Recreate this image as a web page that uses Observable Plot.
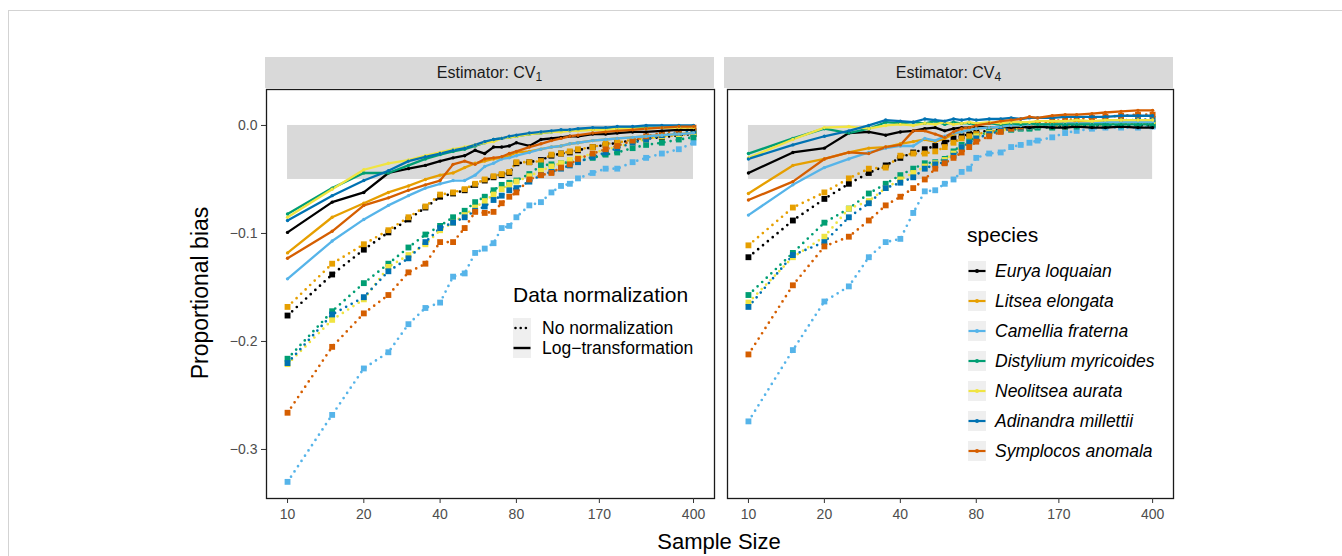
<!DOCTYPE html>
<html>
<head>
<meta charset="utf-8">
<script src="https://cdn.jsdelivr.net/npm/d3@7"></script>
<script src="https://cdn.jsdelivr.net/npm/@observablehq/plot@0.6"></script>
<style>
  body { margin: 0; background: #fff; font-family: "Liberation Sans", Arial, Helvetica, sans-serif; }
  #fig { position: relative; width: 1342px; height: 556px; overflow: hidden; background: #fff; }
  .strip { position: absolute; background: #d9d9d9; color: #1a1a1a; font-size: 16px; text-align: center; line-height: 31px; height: 31px; }
  .strip sub { font-size: 12px; vertical-align: -3px; line-height: 0; }
  .axtitle { position: absolute; color: #000; font-size: 23px; white-space: nowrap; line-height: 1; }
  .legtitle { position: absolute; color: #000; font-size: 21px; white-space: nowrap; line-height: 1; }
  .legrow { position: absolute; display: flex; align-items: center; white-space: nowrap; font-size: 17.5px; color: #000; }
  .legrow svg { display: block; margin-right: 11px; }
  .border { position: absolute; left: 8px; top: 10px; right: -2px; bottom: -2px; border-top: 1px solid #d3d3d3; border-left: 1px solid #d3d3d3; pointer-events: none; }
</style>
</head>
<body>
<div id="fig"></div>
<script>
// ---------------- data ----------------
const sampleSizes = [10,15,20,25,30,35,40,45,50,55,60,65,70,75,80,90,100,110,120,130,140,160,180,200,230,260,300,350,400];
const speciesNames = ["Eurya loquaian","Litsea elongata","Camellia fraterna","Distylium myricoides","Neolitsea aurata","Adinandra millettii","Symplocos anomala"];
const speciesColors = ["#000000","#E69F00","#56B4E9","#009E73","#F0E442","#0072B2","#D55E00"];
const estimatorLabels = ["1","4"];
const normalizationLabels = ["No normalization","Log\u2212transformation"];
const xTickValues = [10,20,40,80,170,400];
const yTickValues = [-0.3,-0.2,-0.1,0.0];
const bandRange = [-0.05, 0];
const bandSampleRange = [10, 400];

// Estimator CV1, log-transformation (solid)
const cv1LogEurya      = [-0.099,-0.071,-0.062,-0.044,-0.040,-0.037,-0.033,-0.030,-0.028,-0.023,-0.026,-0.020,-0.020,-0.019,-0.016,-0.019,-0.013,-0.012,-0.011,-0.010,-0.010,-0.008,-0.008,-0.007,-0.006,-0.006,-0.005,-0.004,-0.004];
const cv1LogLitsea     = [-0.118,-0.085,-0.072,-0.062,-0.056,-0.050,-0.046,-0.044,-0.039,-0.035,-0.033,-0.031,-0.030,-0.028,-0.025,-0.024,-0.022,-0.020,-0.019,-0.017,-0.016,-0.014,-0.013,-0.012,-0.011,-0.010,-0.009,-0.008,-0.007];
const cv1LogCamellia   = [-0.142,-0.107,-0.087,-0.074,-0.065,-0.058,-0.054,-0.051,-0.051,-0.046,-0.038,-0.035,-0.031,-0.030,-0.028,-0.025,-0.022,-0.020,-0.019,-0.017,-0.016,-0.014,-0.013,-0.012,-0.011,-0.010,-0.009,-0.008,-0.007];
const cv1LogDistylium  = [-0.082,-0.058,-0.044,-0.044,-0.037,-0.031,-0.027,-0.024,-0.022,-0.019,-0.016,-0.013,-0.012,-0.011,-0.010,-0.008,-0.007,-0.006,-0.005,-0.005,-0.004,-0.004,-0.003,-0.003,-0.002,-0.002,-0.002,-0.001,-0.001];
const cv1LogNeolitsea  = [-0.085,-0.059,-0.041,-0.035,-0.032,-0.028,-0.025,-0.022,-0.020,-0.018,-0.016,-0.015,-0.012,-0.011,-0.010,-0.008,-0.007,-0.006,-0.006,-0.005,-0.005,-0.004,-0.004,-0.003,-0.003,-0.003,-0.002,-0.002,-0.002];
const cv1LogAdinandra  = [-0.088,-0.065,-0.051,-0.042,-0.033,-0.029,-0.026,-0.023,-0.021,-0.018,-0.015,-0.013,-0.012,-0.010,-0.009,-0.007,-0.006,-0.005,-0.004,-0.004,-0.003,-0.002,-0.002,-0.001,-0.001,0.000,0.000,0.000,0.000];
const cv1LogSymplocos  = [-0.123,-0.098,-0.074,-0.067,-0.060,-0.055,-0.051,-0.036,-0.033,-0.036,-0.031,-0.030,-0.029,-0.026,-0.024,-0.020,-0.017,-0.014,-0.012,-0.010,-0.009,-0.007,-0.006,-0.005,-0.004,-0.003,-0.002,-0.001,-0.001];

// Estimator CV1, no normalization (dotted)
const cv1RawEurya      = [-0.176,-0.138,-0.115,-0.099,-0.087,-0.076,-0.066,-0.063,-0.060,-0.055,-0.051,-0.048,-0.046,-0.044,-0.035,-0.034,-0.032,-0.028,-0.026,-0.025,-0.023,-0.020,-0.018,-0.016,-0.014,-0.012,-0.011,-0.009,-0.008];
const cv1RawLitsea     = [-0.168,-0.128,-0.110,-0.097,-0.085,-0.075,-0.064,-0.062,-0.059,-0.054,-0.050,-0.047,-0.045,-0.043,-0.034,-0.034,-0.033,-0.027,-0.026,-0.024,-0.022,-0.020,-0.017,-0.016,-0.013,-0.012,-0.010,-0.009,-0.007];
const cv1RawCamellia   = [-0.330,-0.268,-0.225,-0.210,-0.184,-0.169,-0.164,-0.140,-0.137,-0.118,-0.114,-0.109,-0.095,-0.093,-0.085,-0.074,-0.071,-0.062,-0.056,-0.054,-0.049,-0.044,-0.040,-0.040,-0.034,-0.030,-0.026,-0.022,-0.016];
const cv1RawDistylium  = [-0.216,-0.172,-0.146,-0.128,-0.113,-0.101,-0.093,-0.085,-0.079,-0.071,-0.066,-0.060,-0.055,-0.053,-0.051,-0.045,-0.037,-0.036,-0.035,-0.034,-0.033,-0.030,-0.027,-0.025,-0.021,-0.018,-0.016,-0.013,-0.011];
const cv1RawNeolitsea  = [-0.221,-0.180,-0.161,-0.131,-0.120,-0.110,-0.097,-0.090,-0.083,-0.076,-0.070,-0.064,-0.059,-0.055,-0.052,-0.047,-0.042,-0.038,-0.035,-0.032,-0.030,-0.026,-0.022,-0.020,-0.016,-0.013,-0.010,-0.008,-0.006];
const cv1RawAdinandra  = [-0.220,-0.175,-0.159,-0.135,-0.123,-0.108,-0.095,-0.090,-0.085,-0.079,-0.075,-0.069,-0.065,-0.060,-0.058,-0.052,-0.046,-0.043,-0.040,-0.037,-0.034,-0.029,-0.025,-0.021,-0.016,-0.013,-0.009,-0.007,-0.005];
const cv1RawSymplocos  = [-0.266,-0.205,-0.174,-0.157,-0.136,-0.128,-0.108,-0.108,-0.095,-0.080,-0.081,-0.080,-0.072,-0.066,-0.062,-0.050,-0.046,-0.044,-0.039,-0.036,-0.031,-0.026,-0.022,-0.019,-0.014,-0.010,-0.007,-0.004,-0.002];

// Estimator CV4, log-transformation (solid)
const cv4LogEurya      = [-0.044,-0.025,-0.021,-0.007,-0.006,-0.009,-0.006,-0.005,-0.003,-0.002,-0.005,-0.003,-0.002,-0.002,-0.001,-0.002,-0.001,-0.002,-0.001,-0.002,-0.001,-0.002,-0.002,-0.001,-0.002,-0.002,-0.001,-0.002,-0.002];
const cv4LogLitsea     = [-0.063,-0.037,-0.031,-0.025,-0.021,-0.020,-0.017,-0.015,-0.013,-0.015,-0.012,-0.008,-0.006,-0.004,-0.003,-0.002,-0.001,0.000,0.000,0.001,0.001,0.002,0.002,0.003,0.003,0.004,0.004,0.005,0.005];
const cv4LogCamellia   = [-0.083,-0.055,-0.039,-0.031,-0.025,-0.021,-0.019,-0.019,-0.012,-0.014,-0.010,-0.007,-0.006,-0.004,-0.003,-0.002,-0.001,0.000,0.000,0.001,0.001,0.001,0.002,0.002,0.002,0.003,0.003,0.003,0.003];
const cv4LogDistylium  = [-0.026,-0.012,-0.003,-0.007,-0.003,0.003,0.002,0.003,0.002,0.004,0.001,0.003,0.002,0.002,0.001,0.002,0.001,0.002,0.001,0.002,0.001,0.001,0.001,0.001,0.001,0.001,0.001,0.001,0.001];
const cv4LogNeolitsea  = [-0.030,-0.013,-0.002,-0.001,-0.003,0.000,0.001,0.000,0.002,0.001,0.003,0.001,0.002,0.003,0.002,0.003,0.002,0.003,0.003,0.003,0.004,0.004,0.004,0.005,0.004,0.005,0.005,0.005,0.005];
const cv4LogAdinandra  = [-0.031,-0.018,-0.010,-0.005,0.000,0.005,0.004,0.003,0.006,0.005,0.004,0.006,0.005,0.006,0.005,0.006,0.006,0.007,0.006,0.007,0.007,0.007,0.008,0.008,0.008,0.008,0.009,0.009,0.009];
const cv4LogSymplocos  = [-0.069,-0.052,-0.031,-0.025,-0.026,-0.020,-0.018,-0.005,-0.005,-0.008,-0.011,-0.006,-0.003,-0.002,0.000,0.002,0.004,0.005,0.006,0.008,0.007,0.009,0.010,0.010,0.011,0.012,0.013,0.014,0.014];

// Estimator CV4, no normalization (dotted)
const cv4RawEurya      = [-0.122,-0.088,-0.068,-0.054,-0.044,-0.037,-0.030,-0.025,-0.022,-0.019,-0.016,-0.012,-0.010,-0.008,-0.006,-0.005,-0.004,-0.003,-0.002,-0.002,-0.001,-0.001,-0.001,0.000,0.000,0.000,0.000,0.000,0.000];
const cv4RawLitsea     = [-0.111,-0.076,-0.062,-0.049,-0.040,-0.039,-0.028,-0.026,-0.026,-0.024,-0.020,-0.016,-0.012,-0.010,-0.008,-0.006,-0.004,-0.003,-0.002,-0.001,-0.001,0.000,0.000,0.001,0.001,0.001,0.002,0.002,0.002];
const cv4RawCamellia   = [-0.274,-0.208,-0.163,-0.149,-0.122,-0.108,-0.105,-0.081,-0.061,-0.060,-0.054,-0.050,-0.043,-0.040,-0.030,-0.026,-0.025,-0.020,-0.018,-0.016,-0.014,-0.011,-0.007,-0.005,-0.003,-0.002,-0.002,-0.002,-0.001];
const cv4RawDistylium  = [-0.157,-0.118,-0.090,-0.077,-0.063,-0.054,-0.046,-0.040,-0.035,-0.034,-0.031,-0.024,-0.018,-0.015,-0.010,-0.006,-0.005,-0.004,-0.003,-0.003,-0.002,-0.002,-0.001,-0.001,0.000,0.000,0.000,0.001,0.001];
const cv4RawNeolitsea  = [-0.164,-0.122,-0.103,-0.077,-0.070,-0.058,-0.050,-0.044,-0.038,-0.035,-0.032,-0.026,-0.020,-0.016,-0.010,-0.007,-0.005,-0.003,-0.002,-0.001,0.000,0.001,0.002,0.002,0.003,0.003,0.004,0.004,0.004];
const cv4RawAdinandra  = [-0.168,-0.120,-0.108,-0.085,-0.072,-0.058,-0.053,-0.048,-0.040,-0.036,-0.034,-0.028,-0.020,-0.016,-0.012,-0.008,-0.005,-0.003,-0.002,-0.001,0.000,0.001,0.002,0.003,0.003,0.004,0.005,0.005,0.006];
const cv4RawSymplocos  = [-0.212,-0.148,-0.112,-0.103,-0.088,-0.074,-0.066,-0.058,-0.050,-0.040,-0.035,-0.030,-0.025,-0.020,-0.015,-0.010,-0.006,-0.003,-0.001,0.001,0.002,0.004,0.005,0.006,0.007,0.008,0.009,0.010,0.010];

const cv1Log = [cv1LogEurya, cv1LogLitsea, cv1LogCamellia, cv1LogDistylium, cv1LogNeolitsea, cv1LogAdinandra, cv1LogSymplocos];
const cv1Raw = [cv1RawEurya, cv1RawLitsea, cv1RawCamellia, cv1RawDistylium, cv1RawNeolitsea, cv1RawAdinandra, cv1RawSymplocos];
const cv4Log = [cv4LogEurya, cv4LogLitsea, cv4LogCamellia, cv4LogDistylium, cv4LogNeolitsea, cv4LogAdinandra, cv4LogSymplocos];
const cv4Raw = [cv4RawEurya, cv4RawLitsea, cv4RawCamellia, cv4RawDistylium, cv4RawNeolitsea, cv4RawAdinandra, cv4RawSymplocos];

// ---------------- build ----------------
function toRows(seriesList) {
  const rows = [];
  seriesList.forEach((vals, i) => vals.forEach((v, j) => rows.push({species: speciesNames[i], n: sampleSizes[j], bias: v})));
  return rows;
}

const FONT = '"Liberation Sans", Arial, Helvetica, sans-serif';
const fig = document.getElementById("fig");

function panel(logSeries, rawSeries, opts) {
  const rowsLog = toRows(logSeries);
  const rowsRaw = toRows(rawSeries);
  const axisMarks = [
    // tick marks through the library's log scale
    Plot.axisX(xTickValues, {tickFormat: () => "", label: null, tickSize: 5, stroke: "#333"}),
    // tick labels (drawn as text so the log scale's label thinning does not drop any)
    Plot.text(xTickValues, {x: d => d, text: d => String(d), frameAnchor: "bottom", dy: 20, fill: "#4d4d4d", fontSize: 14})
  ];
  if (opts.showY) axisMarks.push(Plot.axisY(yTickValues, {tickFormat: d3.format(".1f"), label: null, tickSize: 5, tickPadding: 4, stroke: "#333", fill: "#4d4d4d"}));
  const chart = Plot.plot({
    width: opts.width,
    height: 556,
    marginTop: 89,
    marginBottom: 58,
    marginLeft: opts.marginLeft,
    marginRight: opts.marginRight,
    style: {fontFamily: FONT, fontSize: "14px", color: "#4d4d4d", background: "transparent", overflow: "visible"},
    x: {type: "log", domain: [8.26, 484], label: null, axis: null},
    y: {domain: [-0.3454, 0.0333], label: null, axis: null},
    color: {domain: speciesNames, range: speciesColors},
    marks: [
      Plot.rect([0], {x1: () => bandSampleRange[0], x2: () => bandSampleRange[1], y1: () => bandRange[0], y2: () => bandRange[1], fill: "#d9d9d9"}),
      Plot.line(rowsRaw, {x: "n", y: "bias", z: "species", stroke: "species", strokeWidth: 2.7, strokeDasharray: "0 6.3", strokeLinecap: "round"}),
      Plot.dot(rowsRaw, {x: "n", y: "bias", fill: "species", symbol: "square", r: 3.3}),
      Plot.line(rowsLog, {x: "n", y: "bias", z: "species", stroke: "species", strokeWidth: 2.3}),
      Plot.dot(rowsLog, {x: "n", y: "bias", fill: "species", r: 1.7}),
      Plot.frame({stroke: "#1a1a1a", strokeWidth: 1.3}),
      ...axisMarks
    ]
  });
  chart.style.position = "absolute";
  chart.style.left = opts.left + "px";
  chart.style.top = "0px";
  chart.style.maxWidth = "none";
  fig.appendChild(chart);
}

panel(cv1Log, cv1Raw, {left: 0, width: 719, marginLeft: 266, marginRight: 5, showY: true});
panel(cv4Log, cv4Raw, {left: 722, width: 456, marginLeft: 5, marginRight: 5, showY: false});

// strips
const stripBoxes = [{left: 265, width: 449}, {left: 724, width: 449}];
estimatorLabels.forEach((lab, i) => {
  const d = document.createElement("div");
  d.className = "strip";
  d.style.left = stripBoxes[i].left + "px";
  d.style.width = stripBoxes[i].width + "px";
  d.style.top = "57px";
  d.innerHTML = "Estimator: CV<sub>" + lab + "</sub>";
  fig.appendChild(d);
});

// axis titles
const xt = document.createElement("div");
xt.className = "axtitle";
xt.textContent = "Sample Size";
xt.style.fontSize = "22px";
xt.style.left = "719px"; xt.style.top = "531px"; xt.style.transform = "translateX(-50%)";
fig.appendChild(xt);

const yt = document.createElement("div");
yt.className = "axtitle";
yt.textContent = "Proportional bias";
yt.style.left = "200px"; yt.style.top = "293px";
yt.style.transform = "translate(-50%,-50%) rotate(-90deg)";
fig.appendChild(yt);

// normalization legend
const nt = document.createElement("div");
nt.className = "legtitle";
nt.textContent = "Data normalization";
nt.style.left = "513px"; nt.style.top = "284px";
fig.appendChild(nt);
normalizationLabels.forEach((lab, i) => {
  const row = document.createElement("div");
  row.className = "legrow";
  row.style.left = "513px";
  row.style.top = (318 + i * 20) + "px";
  row.style.height = "20px";
  const dash = i === 0 ? 'stroke-dasharray="0 5.2" stroke-linecap="round" stroke-width="2.6"' : 'stroke-width="2.4"';
  row.innerHTML = '<svg width="18" height="20"><rect width="18" height="20" fill="#efefef"/><line x1="' + (i === 0 ? 2.5 : 0.5) + '" x2="' + (i === 0 ? 17 : 17.5) + '" y1="10" y2="10" stroke="#000" ' + dash + '/></svg><span>' + lab + '</span>';
  fig.appendChild(row);
});

// species legend
const st = document.createElement("div");
st.className = "legtitle";
st.textContent = "species";
st.style.left = "967px"; st.style.top = "224px";
fig.appendChild(st);
speciesNames.forEach((name, i) => {
  const row = document.createElement("div");
  row.className = "legrow";
  row.style.left = "968px";
  row.style.top = (261 + i * 30) + "px";
  row.style.height = "20px";
  row.style.fontStyle = "italic";
  row.innerHTML = '<svg width="18" height="20" style="margin-right:9px"><rect width="18" height="20" fill="#efefef"/><line x1="0.5" x2="17.5" y1="10" y2="10" stroke="' + speciesColors[i] + '" stroke-width="2.2"/><circle cx="9" cy="10" r="2" fill="' + speciesColors[i] + '"/></svg><span>' + name + '</span>';
  fig.appendChild(row);
});

// outer figure border
const b = document.createElement("div");
b.className = "border";
fig.appendChild(b);
</script>
</body>
</html>
